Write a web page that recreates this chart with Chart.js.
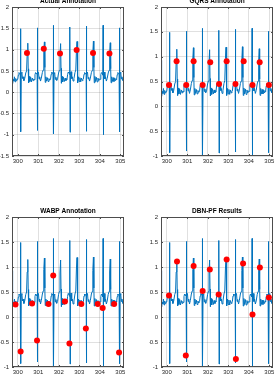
<!DOCTYPE html>
<html>
<head>
<meta charset="utf-8">
<script src="https://cdn.jsdelivr.net/npm/chart.js@4"></script>
<style>
  html, body { margin: 0; padding: 0; background: #fff; overflow: hidden; }
  body { width: 276px; height: 375px; position: relative; }
  canvas { position: absolute; }
</style>
</head>
<body>
<canvas id="c1" width="127" height="170" style="left:0;top:0"></canvas>
<canvas id="c2" width="127" height="170" style="left:149px;top:0"></canvas>
<canvas id="c3" width="127" height="175" style="left:0;top:200px"></canvas>
<canvas id="c4" width="127" height="175" style="left:149px;top:200px"></canvas>
<script>
// signal (time in s, amplitude), same trace in all four panels
const sigT = [
  299.720, 299.740, 299.755, 299.780, 299.810, 299.840, 299.870, 299.900, 299.930, 299.960,
  300.000, 300.030, 300.060, 300.090, 300.120, 300.135, 300.140, 300.152, 300.170, 300.200,
  300.230, 300.260, 300.300, 300.340, 300.390, 300.430, 300.460, 300.490, 300.510, 300.530,
  300.560, 300.590, 300.630, 300.670, 300.710, 300.750, 300.780,
  300.810, 300.840, 300.870, 300.900, 300.930, 300.945, 300.950, 300.962, 300.980, 301.010,
  301.040, 301.070, 301.110, 301.150, 301.200, 301.240, 301.270, 301.300, 301.320, 301.340,
  301.370, 301.400, 301.440, 301.480, 301.520, 301.560, 301.590,
  301.600, 301.630, 301.660, 301.690, 301.720, 301.735, 301.740, 301.752, 301.770, 301.800,
  301.830, 301.860, 301.900, 301.940, 301.990, 302.030, 302.060, 302.090, 302.110, 302.130,
  302.160, 302.190, 302.230, 302.270, 302.310, 302.350, 302.380,
  302.400, 302.430, 302.460, 302.490, 302.520, 302.535, 302.540, 302.552, 302.570, 302.600,
  302.630, 302.660, 302.700, 302.740, 302.790, 302.830, 302.860, 302.890, 302.910, 302.930,
  302.960, 302.990, 303.030, 303.070, 303.110, 303.150, 303.180,
  303.200, 303.230, 303.260, 303.290, 303.320, 303.335, 303.340, 303.352, 303.370, 303.400,
  303.430, 303.460, 303.500, 303.540, 303.590, 303.630, 303.660, 303.690, 303.710, 303.730,
  303.760, 303.790, 303.830, 303.870, 303.910, 303.950, 303.990,
  304.020, 304.050, 304.080, 304.110, 304.140, 304.155, 304.160, 304.172, 304.190, 304.220,
  304.250, 304.280, 304.320, 304.360, 304.410, 304.450, 304.480, 304.510, 304.530, 304.550,
  304.580, 304.610, 304.650, 304.690, 304.730, 304.770, 304.800,
  304.820, 304.850, 304.880, 304.910, 304.940, 304.955, 304.960, 304.972, 304.990, 305.020,
  305.050, 305.080, 305.120, 305.150, 305.190
];
const sigV = [
  0.93, 0.60, 0.20, 0.30, 0.26, 0.36, 0.24, 0.32, 0.27, 0.30,
  0.30, 0.40, 0.46, 0.44, 0.45, 0.40, 1.49, -0.93, 0.44, 0.47,
  0.32, 0.36, 0.27, 0.32, 0.45, 0.50, 0.90, 1.15, 0.55, 0.22,
  0.37, 0.25, 0.35, 0.24, 0.33, 0.27, 0.31,
  0.29, 0.41, 0.46, 0.43, 0.45, 0.41, 1.51, -0.90, 0.45, 0.47,
  0.31, 0.36, 0.26, 0.33, 0.46, 0.52, 0.95, 1.18, 0.58, 0.23,
  0.36, 0.26, 0.34, 0.25, 0.32, 0.28, 0.30,
  0.31, 0.42, 0.47, 0.44, 0.46, 0.40, 1.57, -0.98, 0.44, 0.46,
  0.30, 0.35, 0.27, 0.31, 0.45, 0.51, 0.88, 1.14, 0.56, 0.21,
  0.37, 0.24, 0.35, 0.25, 0.33, 0.27, 0.31,
  0.30, 0.41, 0.47, 0.45, 0.46, 0.41, 1.53, -0.94, 0.45, 0.48,
  0.32, 0.36, 0.26, 0.32, 0.46, 0.52, 0.96, 1.19, 0.57, 0.22,
  0.36, 0.25, 0.34, 0.24, 0.33, 0.27, 0.30,
  0.31, 0.42, 0.46, 0.44, 0.45, 0.40, 1.55, -0.92, 0.44, 0.47,
  0.31, 0.35, 0.26, 0.33, 0.46, 0.51, 0.93, 1.20, 0.58, 0.22,
  0.37, 0.25, 0.35, 0.24, 0.33, 0.27, 0.31,
  0.30, 0.41, 0.46, 0.44, 0.46, 0.40, 1.57, -1.00, 0.44, 0.47,
  0.31, 0.36, 0.26, 0.32, 0.45, 0.51, 0.90, 1.16, 0.55, 0.22,
  0.36, 0.25, 0.34, 0.25, 0.33, 0.27, 0.31,
  0.30, 0.41, 0.46, 0.44, 0.45, 0.40, 1.51, -0.93, 0.44, 0.47,
  0.31, 0.36, 0.27, 0.33, 0.45
];

// annotation markers per panel
const actualX = [300.45, 301.27, 302.06, 302.87, 303.67, 304.47];
const actualY = [0.92, 1.02, 0.91, 0.99, 0.92, 0.91];
const gqrsX = [300.11, 300.48, 300.95, 301.31, 301.75, 302.12, 302.55, 302.92, 303.35, 303.75, 304.18, 304.53, 304.98];
const gqrsY = [0.43, 0.91, 0.43, 0.91, 0.43, 0.89, 0.45, 0.91, 0.45, 0.91, 0.43, 0.89, 0.43];
const wabpX = [299.89, 300.14, 300.70, 300.94, 301.50, 301.73, 302.30, 302.52, 303.10, 303.32, 303.90, 304.14, 304.70, 304.94];
const wabpY = [0.25, -0.69, 0.27, -0.47, 0.26, 0.83, 0.31, -0.53, 0.26, -0.23, 0.26, 0.18, 0.26, -0.71];
const dbnX = [300.11, 300.50, 300.93, 301.31, 301.75, 302.10, 302.53, 302.92, 303.37, 303.72, 304.18, 304.54, 304.98];
const dbnY = [0.43, 1.11, -0.77, 1.02, 0.52, 0.95, 0.45, 1.15, -0.84, 1.07, 0.05, 0.99, 0.39];

const xTicks = [300, 301, 302, 303, 304, 305];
const yTicksA = [-1.5, -1, -0.5, 0, 0.5, 1, 1.5, 2];
const yTicksB = [-1, -0.5, 0, 0.5, 1, 1.5, 2];
const X_MIN = 299.72, X_MAX = 305.18;

const FONT = "'Liberation Sans', Arial, sans-serif";
const BLUE = '#0072BD', RED = '#ff0000', AXIS = '#4d4d4d', GRID = 'rgba(38,38,38,0.14)', INK = '#262626';

// MATLAB-like box, inward tick marks and bold title
const boxPlugin = {
  id: 'box',
  afterDraw(chart) {
    const { ctx, chartArea: a, scales } = chart;
    ctx.save();
    ctx.strokeStyle = AXIS; ctx.lineWidth = 1;
    ctx.strokeRect(a.left + 0.5, a.top + 0.5, a.right - a.left - 1, a.bottom - a.top - 1);
    ctx.beginPath();
    scales.x.ticks.forEach((t) => {
      const px = Math.round(scales.x.getPixelForValue(t.value)) + 0.5;
      ctx.moveTo(px, a.bottom); ctx.lineTo(px, a.bottom - 2);
      ctx.moveTo(px, a.top); ctx.lineTo(px, a.top + 2);
    });
    scales.y.ticks.forEach((t) => {
      const py = Math.round(scales.y.getPixelForValue(t.value)) + 0.5;
      ctx.moveTo(a.left, py); ctx.lineTo(a.left + 2, py);
      ctx.moveTo(a.right, py); ctx.lineTo(a.right - 2, py);
    });
    ctx.stroke();
    const title = chart.options.plugins.box.title;
    ctx.fillStyle = '#000';
    ctx.font = `bold 6.5px ${FONT}`;
    ctx.textAlign = 'center'; ctx.textBaseline = 'middle';
    ctx.fillText(title, (a.left + a.right) / 2, a.top - 5.5);
    ctx.restore();
  }
};

function panel(id, title, yTicks, dotsX, dotsY, padTop, xAxisH) {
  const line = sigT.map((t, i) => ({ x: t, y: sigV[i] }));
  const dots = dotsX.map((t, i) => ({ x: t, y: dotsY[i] }));
  return new Chart(document.getElementById(id), {
    type: 'scatter',
    data: {
      datasets: [
        { data: dots, showLine: false, pointRadius: 3, pointHoverRadius: 3, backgroundColor: RED, borderColor: RED, borderWidth: 0 },
        { data: line, showLine: true, borderColor: BLUE, borderWidth: 1, pointRadius: 0, tension: 0 }
      ]
    },
    options: {
      responsive: false, animation: false, devicePixelRatio: 1,
      layout: { padding: { top: padTop, right: 1, left: 0, bottom: 0 } },
      plugins: { legend: { display: false }, tooltip: { enabled: false }, box: { title } },
      scales: {
        x: {
          type: 'linear', min: X_MIN, max: X_MAX,
          afterBuildTicks: (s) => { s.ticks = xTicks.map((v) => ({ value: v })); },
          afterFit: (s) => { s.height = xAxisH; s.paddingLeft = 0; s.paddingRight = 0; },
          grid: { color: GRID, drawTicks: false, lineWidth: 1 },
          border: { display: false },
          ticks: { font: { family: FONT, size: 6 }, color: INK, padding: 2, maxRotation: 0, autoSkip: false, callback: (v) => String(v) }
        },
        y: {
          type: 'linear', min: yTicks[0], max: yTicks[yTicks.length - 1],
          afterBuildTicks: (s) => { s.ticks = yTicks.map((v) => ({ value: v })); },
          afterFit: (s) => { s.width = 12; s.paddingTop = 0; s.paddingBottom = 0; },
          grid: { color: GRID, drawTicks: false, lineWidth: 1 },
          border: { display: false },
          ticks: { font: { family: FONT, size: 6 }, color: INK, padding: 3, autoSkip: false, callback: (v) => String(v) }
        }
      }
    },
    plugins: [boxPlugin]
  });
}

panel('c1', 'Actual Annotation', yTicksA, actualX, actualY, 7, 14);
panel('c2', 'GQRS Annotation', yTicksB, gqrsX, gqrsY, 7, 14);
panel('c3', 'WABP Annotation', yTicksB, wabpX, wabpY, 17, 8);
panel('c4', 'DBN-PF Results', yTicksB, dbnX, dbnY, 17, 8);
</script>
</body>
</html>
